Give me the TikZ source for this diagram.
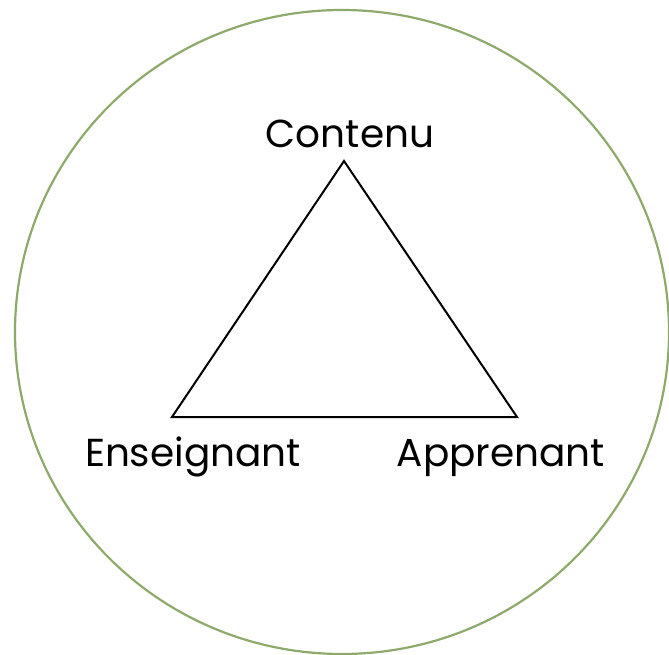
\documentclass[tikz,border=0pt]{standalone}
\usepackage{fontspec}
\setmainfont{Poppins}
\definecolor{ringgreen}{HTML}{8EAA6B}
\begin{document}
\begin{tikzpicture}[x=1pt,y=-1pt,
  lbl/.style={inner sep=0pt,font=\fontsize{39}{44}\selectfont,anchor=base},
  tri/.style={draw=black,line width=2pt,line join=miter}]
\useasboundingbox (0,0) rectangle (669,655);
\draw[ringgreen,line width=2.2pt] (342,332) ellipse [x radius=327, y radius=322];
\coordinate (top) at (344,161);
\coordinate (bl) at (172,417);
\coordinate (br) at (517,417);
\draw[tri] (top) -- (bl) -- (br) -- cycle;
\node[lbl] (contenu) at (350,148) {Contenu};
\node[lbl] (ens) at (193,466) {Enseignant};
\node[lbl] (app) at (501,466) {Apprenant};
\end{tikzpicture}
\end{document}
